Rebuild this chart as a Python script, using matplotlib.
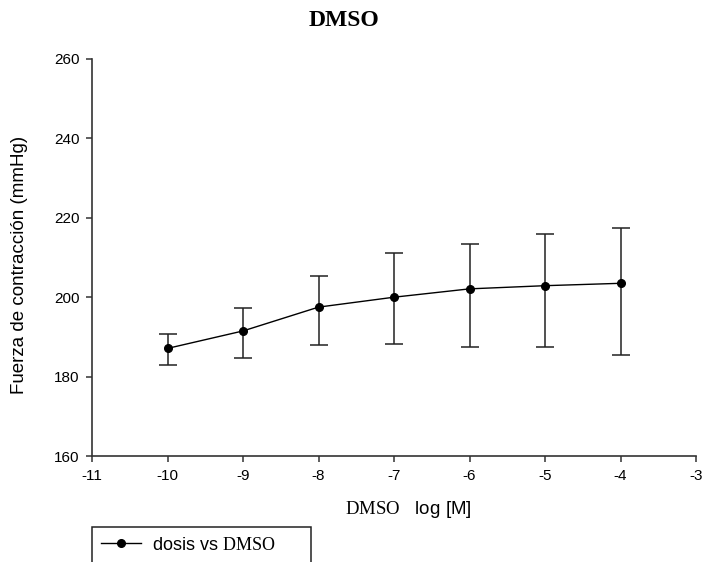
import matplotlib
matplotlib.use("Agg")
import matplotlib.pyplot as plt
from matplotlib.patches import Rectangle
from matplotlib.lines import Line2D

plt.rcParams["font.family"] = ["Liberation Sans", "DejaVu Sans"]
plt.rcParams["mathtext.fontset"] = "custom"
plt.rcParams["mathtext.rm"] = "Liberation Serif"

# Dose (log molar) and mean contraction force with error bar limits
log_dose = [-10, -9, -8, -7, -6, -5, -4]
force_mean = [187.1, 191.5, 197.5, 200.0, 202.1, 202.9, 203.5]
force_upper = [190.7, 197.2, 205.4, 211.2, 213.4, 216.0, 217.4]
force_lower = [183.0, 184.6, 188.0, 188.1, 187.5, 187.5, 185.4]

x_ticks = [-11, -10, -9, -8, -7, -6, -5, -4, -3]
y_ticks = [160, 180, 200, 220, 240, 260]

err_low = [m - lo for m, lo in zip(force_mean, force_lower)]
err_high = [hi - m for m, hi in zip(force_mean, force_upper)]

fig = plt.figure(figsize=(7.03, 5.62), dpi=100)
ax = fig.add_axes([92 / 703, 1 - 456 / 562, (696 - 92) / 703, (456 - 59) / 562])

ax.errorbar(log_dose, force_mean, yerr=[err_low, err_high],
            color="black", ecolor="#222222", elinewidth=1.1, capsize=6.5,
            capthick=1.1, linewidth=1.0, marker="o", markersize=5.5)

ax.set_xlim(-11, -3)
ax.set_ylim(160, 260)
ax.set_xticks(x_ticks)
ax.set_yticks(y_ticks)
ax.set_xticklabels([str(t) for t in x_ticks])
ax.set_yticklabels([str(t) for t in y_ticks])
ax.tick_params(direction="out", length=4, width=1.1, color="#333333",
               labelsize=11, pad=5)

for side in ("top", "right"):
    ax.spines[side].set_visible(False)
for side in ("left", "bottom"):
    ax.spines[side].set_linewidth(1.2)
    ax.spines[side].set_color("#333333")

fig.text(20 / 703, 1 - 265 / 562, "Fuerza de contracción (mmHg)",
         rotation=90, ha="center", va="center", fontsize=13.5)
fig.text(408 / 703, 1 - 510 / 562, r"$\mathrm{DMSO}$   log [M]",
         ha="center", va="center", fontsize=13.5)

fig.text(344 / 703, 1 - 20 / 562, "DMSO", ha="center", va="center",
         fontsize=17, fontweight="bold", family="Liberation Serif")

# Legend frame running off the bottom edge
frame = Rectangle((92 / 703, -0.05), (311 - 92) / 703, 0.05 + (562 - 527) / 562,
                  transform=fig.transFigure, fill=False, edgecolor="#222222",
                  linewidth=1.1)
fig.patches.append(frame)
handle = Line2D([], [], color="black", linewidth=1.0, marker="o", markersize=5.5)
fig.legend(handles=[handle], labels=[r"dosis vs $\mathrm{DMSO}$"],
           loc="center left", bbox_to_anchor=(101 / 703, 1 - 545 / 562),
           frameon=False, fontsize=13, handlelength=2.2,
           handletextpad=0.6, borderpad=0, borderaxespad=0)

fig.savefig("out.png", dpi=100)
